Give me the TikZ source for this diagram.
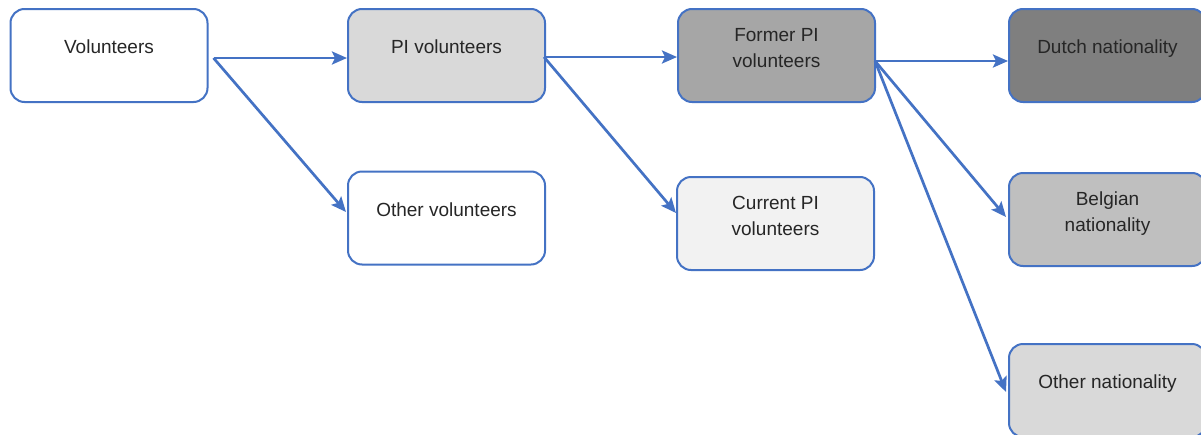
\documentclass[tikz,border=0pt]{standalone}
\usepackage{fontspec}
\setmainfont{Liberation Sans}
\usetikzlibrary{arrows.meta,calc}
\definecolor{edgeblue}{HTML}{4472C4}
\definecolor{txt}{HTML}{262626}
\definecolor{fillA}{HTML}{D9D9D9}
\definecolor{fillB}{HTML}{A6A6A6}
\definecolor{fillC}{HTML}{F2F2F2}
\definecolor{fillD}{HTML}{7F7F7F}
\definecolor{fillE}{HTML}{BFBFBF}
\tikzset{
  box/.style={draw=edgeblue,line width=2pt,rounded corners=14pt,minimum width=197pt,minimum height=93pt,inner sep=0pt},
  lbl/.style={anchor=north,align=center,text=txt,font=\fontsize{19}{26}\selectfont,inner sep=0pt},
  conn/.style={draw=edgeblue,line width=2.7pt,-{Stealth[length=15pt,width=13pt,inset=3pt]}}
}
\begin{document}
\begin{tikzpicture}[x=1pt,y=-1pt]
\useasboundingbox (0,0) rectangle (1201,434);
\clip (0,0) rectangle (1201,434);
\fill[white] (0,0) rectangle (1201,434);
% boxes
\node[box,fill=white] (vol) at (109,55.5) {};
\node[box,fill=fillA] (piv) at (446.5,55.5) {};
\node[box,fill=white] (othv) at (446.5,218) {};
\node[box,fill=fillB] (former) at (776.5,55.5) {};
\node[box,fill=fillC] (current) at (775.5,223.5) {};
\node[box,fill=fillD] (dutch) at (1107.5,55.5) {};
\node[box,fill=fillE] (belg) at (1107.5,219.5) {};
\node[box,fill=fillA] (othn) at (1107.5,390.5) {};
% labels
\node[lbl] (volT) at ([yshift=-32pt]vol.north) {Volunteers};
\node[lbl] (pivT) at ([yshift=-32pt]piv.north) {PI volunteers};
\node[lbl] (othvT) at ([yshift=-32pt]othv.north) {Other volunteers};
\node[lbl] (formerT) at ([yshift=-20pt]former.north) {Former PI\\volunteers};
\node[lbl] (currentT) at ([yshift=-20pt]current.north) {Current PI\\volunteers};
\node[lbl] (dutchT) at ([yshift=-32pt]dutch.north) {Dutch nationality};
\node[lbl] (belgT) at ([yshift=-20pt]belg.north) {Belgian\\nationality};
\node[lbl] (othnT) at ([yshift=-32pt]othn.north) {Other nationality};
% connectors
\coordinate (volout) at ([xshift=5pt,yshift=-2.5pt]vol.east);
\coordinate (pivout) at ([xshift=-2pt,yshift=-1.5pt]piv.east);
\coordinate (formerout) at ([xshift=-1pt,yshift=-5.5pt]former.east);
\draw[conn] (volout) -- ([yshift=-2.5pt]piv.west);
\draw[conn] (volout) -- ([yshift=6pt,xshift=-1pt]othv.west);
\draw[conn] (pivout) -- ([yshift=-1.5pt]former.west);
\draw[conn] (pivout) -- ([yshift=10.5pt]current.west);
\draw[conn] (formerout) -- ([yshift=-5.5pt]dutch.west);
\draw[conn] (formerout) -- ([yshift=2.5pt,xshift=-2pt]belg.west);
\draw[conn] (formerout) -- ([yshift=-1.5pt,xshift=-2pt]othn.west);
\end{tikzpicture}
\end{document}
